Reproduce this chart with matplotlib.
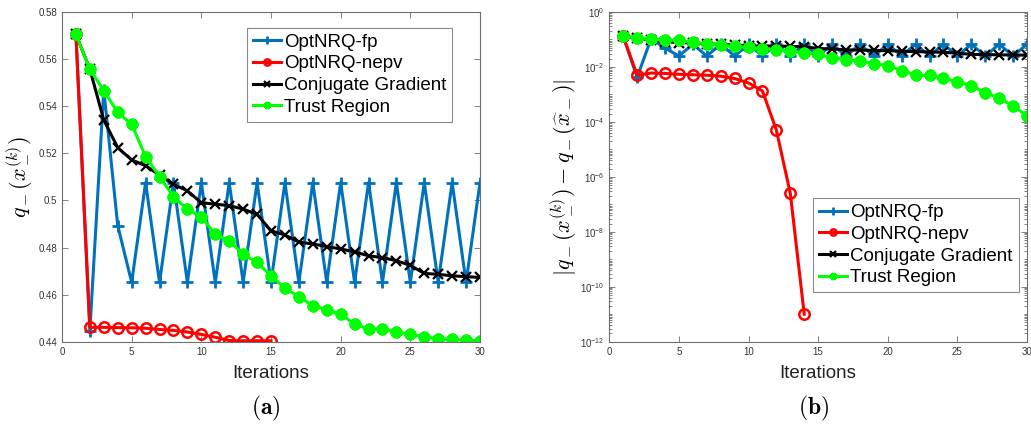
"""Convergence of OptNRQ-fp / OptNRQ-nepv vs. manifold solvers."""
import numpy as np
import matplotlib
matplotlib.use("Agg")
import matplotlib.pyplot as plt
from matplotlib.ticker import FuncFormatter, LogLocator, NullFormatter, MultipleLocator

plt.rcParams["font.family"] = ["Liberation Sans", "DejaVu Sans"]
plt.rcParams["mathtext.fontset"] = "cm"

BLUE  = "#0072BD"
RED   = "#FF0000"
BLACK = "#000000"
GREEN = "#00FF00"
AXC   = "#6e6e6e"
TICKC = "#333333"

W, H = 1031, 426

# ── dados ────────────────────────────────────────────────────────────────────
iters = list(range(1, 31))
iters_nepv = list(range(1, 16))
iters_nepv_err = list(range(1, 15))

# (a) valor do objetivo q_-(x_-^(k))
fp_q = [0.5705, 0.4445, 0.5470, 0.4893, 0.4652, 0.5076, 0.4652, 0.5076, 0.4652, 0.5076,
        0.4652, 0.5076, 0.4652, 0.5076, 0.4652, 0.5076, 0.4652, 0.5076, 0.4652, 0.5076,
        0.4652, 0.5076, 0.4652, 0.5076, 0.4652, 0.5076, 0.4652, 0.5076, 0.4652, 0.5076]
nepv_q = [0.5705, 0.4461, 0.4461, 0.4460, 0.4459, 0.4457, 0.4452, 0.4448, 0.4441, 0.4431,
          0.4419, 0.4405, 0.4404, 0.4404, 0.4404]
cg_q = [0.5705, 0.5557, 0.5341, 0.5224, 0.5172, 0.5147, 0.5108, 0.5068, 0.5041, 0.4990,
        0.4984, 0.4978, 0.4963, 0.4941, 0.4871, 0.4853, 0.4823, 0.4815, 0.4804, 0.4794,
        0.4781, 0.4765, 0.4757, 0.4744, 0.4724, 0.4690, 0.4686, 0.4680, 0.4676, 0.4673]
tr_q = [0.5705, 0.5557, 0.5466, 0.5374, 0.5323, 0.5186, 0.5101, 0.5016, 0.4962, 0.4930,
        0.4856, 0.4828, 0.4772, 0.4737, 0.4680, 0.4627, 0.4591, 0.4553, 0.4535, 0.4516,
        0.4475, 0.4454, 0.4454, 0.4441, 0.4431, 0.4421, 0.4413, 0.4410, 0.4407, 0.4404]

# (b) erro |q_-(x_-^(k)) - q_-(x̂_-)|
fp_err = [0.130, 0.0042, 0.107, 0.049, 0.025, 0.067, 0.025, 0.067, 0.025, 0.067,
          0.025, 0.067, 0.025, 0.067, 0.025, 0.067, 0.025, 0.067, 0.025, 0.067,
          0.025, 0.067, 0.025, 0.067, 0.025, 0.067, 0.025, 0.067, 0.025, 0.067]
nepv_err = [0.130, 0.0050, 0.0060, 0.0058, 0.0054, 0.0052, 0.0050, 0.0046, 0.0038, 0.0026,
            0.00134, 5.0e-5, 2.5e-7, 1.0e-11]
cg_err = [0.130, 0.115, 0.094, 0.082, 0.077, 0.074, 0.070, 0.066, 0.064, 0.059,
          0.058, 0.0574, 0.056, 0.054, 0.047, 0.045, 0.042, 0.041, 0.040, 0.039,
          0.0377, 0.036, 0.0353, 0.034, 0.032, 0.0286, 0.0282, 0.0276, 0.0272, 0.0269]
tr_err = [0.130, 0.115, 0.106, 0.097, 0.092, 0.078, 0.070, 0.061, 0.056, 0.0526,
          0.045, 0.0424, 0.0368, 0.033, 0.029, 0.022, 0.0186, 0.016, 0.0133, 0.0112,
          0.0074, 0.0051, 0.0049, 0.0039, 0.0029, 0.0021, 0.00114, 0.00075, 0.00038, 0.000166]

labels = ["OptNRQ-fp", "OptNRQ-nepv", "Conjugate Gradient", "Trust Region"]

STYLES = [
    dict(color=BLUE,  marker="+", ms=9, mew=2.0),
    dict(color=RED,   marker="o", ms=7.5, mew=1.8, mfc="none"),
    dict(color=BLACK, marker="x", ms=6.5, mew=1.6),
    dict(color=GREEN, marker=(8, 2, 0), ms=8.5, mew=2.8),
]


def px_box(x0, y0, x1, y1):
    # retângulo em pixels (origem no topo) -> coordenadas da figura
    return [x0 / W, 1 - y1 / H, (x1 - x0) / W, (y1 - y0) / H]


def style_ax(ax):
    for spine in ax.spines.values():
        spine.set_color(AXC)
        spine.set_linewidth(0.8)
    ax.tick_params(which="both", direction="in", top=True, right=True,
                   colors=AXC, labelcolor=TICKC, labelsize=7, width=0.6)
    ax.tick_params(which="major", length=4)
    ax.tick_params(which="minor", length=2)
    ax.set_xlim(0, 30)
    ax.xaxis.set_major_locator(MultipleLocator(5))
    ax.set_xlabel("Iterations", fontsize=13.5, color="#222222", labelpad=6)


def add_legend(ax, x0, y0):
    leg = ax.legend(loc="upper left", bbox_to_anchor=(x0 / W, 1 - y0 / H),
                    bbox_transform=fig.transFigure, borderaxespad=0, fontsize=13.5,
                    handlelength=1.5, handletextpad=0.15, labelspacing=0.24,
                    borderpad=0.32, fancybox=False, framealpha=1, markerscale=0.6)
    leg.get_frame().set_edgecolor("#8a8a8a")
    leg.get_frame().set_linewidth(0.8)
    return leg


fig = plt.figure(figsize=(W / 100, H / 100), dpi=100, facecolor="white")
ax1 = fig.add_axes(px_box(62, 12, 480, 341.7))
ax2 = fig.add_axes(px_box(609.3, 12, 1027, 341.7))

# ── (a) ──────────────────────────────────────────────────────────────────────
series_a = [(iters, fp_q), (iters_nepv, nepv_q), (iters, cg_q), (iters, tr_q)]
for (xs, ys), st, lbl in zip(series_a, STYLES, labels):
    ax1.plot(xs, ys, lw=2.2, label=lbl, **st)

ax1.set_ylim(0.44, 0.58)
ax1.yaxis.set_major_locator(MultipleLocator(0.02))
ax1.yaxis.set_major_formatter(FuncFormatter(lambda v, _: f"{v:g}"))
ax1.set_ylabel(r"$q_-(x_-^{(k)})$", fontsize=16, labelpad=2)
style_ax(ax1)
add_legend(ax1, 246.7, 27.7)

# ── (b) ──────────────────────────────────────────────────────────────────────
series_b = [(iters, fp_err), (iters_nepv_err, nepv_err), (iters, cg_err), (iters, tr_err)]
for (xs, ys), st, lbl in zip(series_b, STYLES, labels):
    ax2.semilogy(xs, ys, lw=2.2, label=lbl, **st)

ax2.set_ylim(1e-12, 1e0)
ax2.yaxis.set_major_locator(LogLocator(base=100.0, numticks=10))
ax2.yaxis.set_major_formatter(
    FuncFormatter(lambda v, _: r"$\mathregular{10^{%d}}$" % round(np.log10(v))))
ax2.yaxis.set_minor_locator(LogLocator(base=10.0, subs=np.arange(1, 10), numticks=100))
ax2.yaxis.set_minor_formatter(NullFormatter())
ax2.set_ylabel(r"$|q_-(x_-^{(k)}) - q_-(\widehat{x}_-)|$", fontsize=16, labelpad=1)
style_ax(ax2)
add_legend(ax2, 813.3, 198.3)

# legendas das subfiguras
fig.text(266 / W, 1 - 408 / H, r"$\mathbf{(a)}$", fontsize=17, ha="center", va="center")
fig.text(814 / W, 1 - 408 / H, r"$\mathbf{(b)}$", fontsize=17, ha="center", va="center")

fig.savefig("out.png", dpi=100, facecolor="white")
print("ok out.png")
